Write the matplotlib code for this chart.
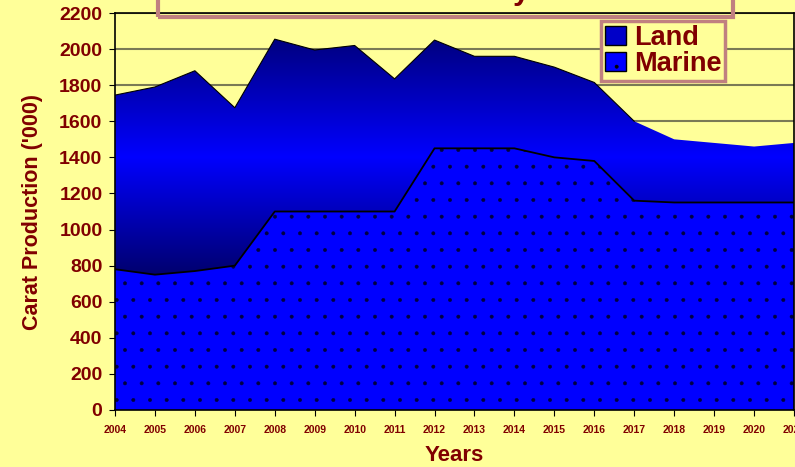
import numpy as np
import matplotlib.pyplot as plt
from matplotlib.patches import Patch, Rectangle
from matplotlib.colors import LinearSegmentedColormap

years = list(range(2004, 2022))
marine = [780, 750, 770, 800, 1100, 1100, 1100, 1100, 1450, 1450, 1450, 1400, 1380, 1160, 1150, 1150, 1150, 1150]
total = [1745, 1790, 1880, 1675, 2055, 1995, 2020, 1835, 2050, 1960, 1960, 1900, 1815, 1600, 1500, 1480, 1460, 1480]
land = [t - m for t, m in zip(total, marine)]

bg = '#ffff99'
red = '#800000'
pink = '#c08080'

plt.rcParams['font.family'] = ['Liberation Sans', 'DejaVu Sans']
plt.rcParams['hatch.linewidth'] = 0.35

fig = plt.figure(figsize=(7.95, 4.67), dpi=100, facecolor=bg)
ax = fig.add_axes([115 / 795, 1 - 410 / 467, 679 / 795, 397 / 467])
ax.set_facecolor(bg)

x = np.array(years)
m = np.array(marine)
top = m + np.array(land)

# marine: flat blue with small black dots
ax.fill_between(x, 0, m, facecolor='#0000ff', edgecolor='#000040', hatch='.', linewidth=0, zorder=2)

# land: vertical gradient dark-bright-dark, clipped to the area
land_poly = ax.fill_between(x, m, top, facecolor='none', linewidth=0, zorder=2)
cmap = LinearSegmentedColormap.from_list('land', ['#00006e', '#0000ff', '#000080'])
ymin, ymax = m.min(), top.max()
grad = np.linspace(0, 1, 256).reshape(-1, 1)
im = ax.imshow(grad, cmap=cmap, aspect='auto', origin='lower',
               extent=[x[0], x[-1], ymin, ymax], zorder=2, interpolation='bilinear')
im.set_clip_path(land_poly.get_paths()[0], transform=ax.transData)

ax.plot(x, m, color='black', lw=1.3, zorder=3)
ax.plot(x[:14], top[:14], color='black', lw=0.8, zorder=3)

ax.set_xlim(2004, 2021)
ax.set_ylim(0, 2200)
ax.set_xticks(years)
ax.set_xticklabels([str(y) for y in years], fontsize=7.5, fontweight='bold', color=red)
ax.set_yticks(range(0, 2201, 200))
ax.set_yticklabels([str(v) for v in range(0, 2201, 200)], fontsize=14, fontweight='bold', color=red)
ax.tick_params(axis='both', direction='out', length=4, color='black')
ax.tick_params(axis='x', pad=7)
ax.tick_params(axis='y', pad=5)
ax.grid(axis='y', color='#7a7a55', lw=1.5, zorder=1)
ax.set_axisbelow(True)
for s in ax.spines.values():
    s.set_color('black')
    s.set_linewidth(1.2)

ax.set_xlabel('Years', fontsize=16, fontweight='bold', color=red, labelpad=7)
ax.set_ylabel("Carat Production ('000)", fontsize=15.5, fontweight='bold', color=red, labelpad=12)

handles = [Patch(facecolor='#0000c8', edgecolor='black', label='Land'),
           Patch(facecolor='#0000ff', edgecolor='black', hatch='.', label='Marine')]
leg = ax.legend(handles=handles, loc='upper left', bbox_to_anchor=(0.716, 0.98),
                prop={'size': 19.5, 'weight': 'bold'}, fancybox=False, framealpha=1,
                facecolor=bg, edgecolor=pink, handlelength=0.75, handleheight=0.75,
                handletextpad=0.3, labelspacing=0.0, borderpad=0.15, borderaxespad=0)
leg.get_frame().set_linewidth(2.5)
for t in leg.get_texts():
    t.set_color(red)
leg.set_zorder(5)

# title box, mostly above the visible area
fig.patches.append(Rectangle((158 / 795, 1 - 17 / 467), 575 / 795, 0.2, transform=fig.transFigure,
                             facecolor='none', edgecolor=pink, lw=3, zorder=6))
fig.text(530 / 795, 1 + 1 / 467, 'Diamond Production Industry', ha='right', va='baseline',
         fontsize=22, fontweight='bold', color=red)

fig.savefig('out.png', dpi=100, facecolor=bg)
